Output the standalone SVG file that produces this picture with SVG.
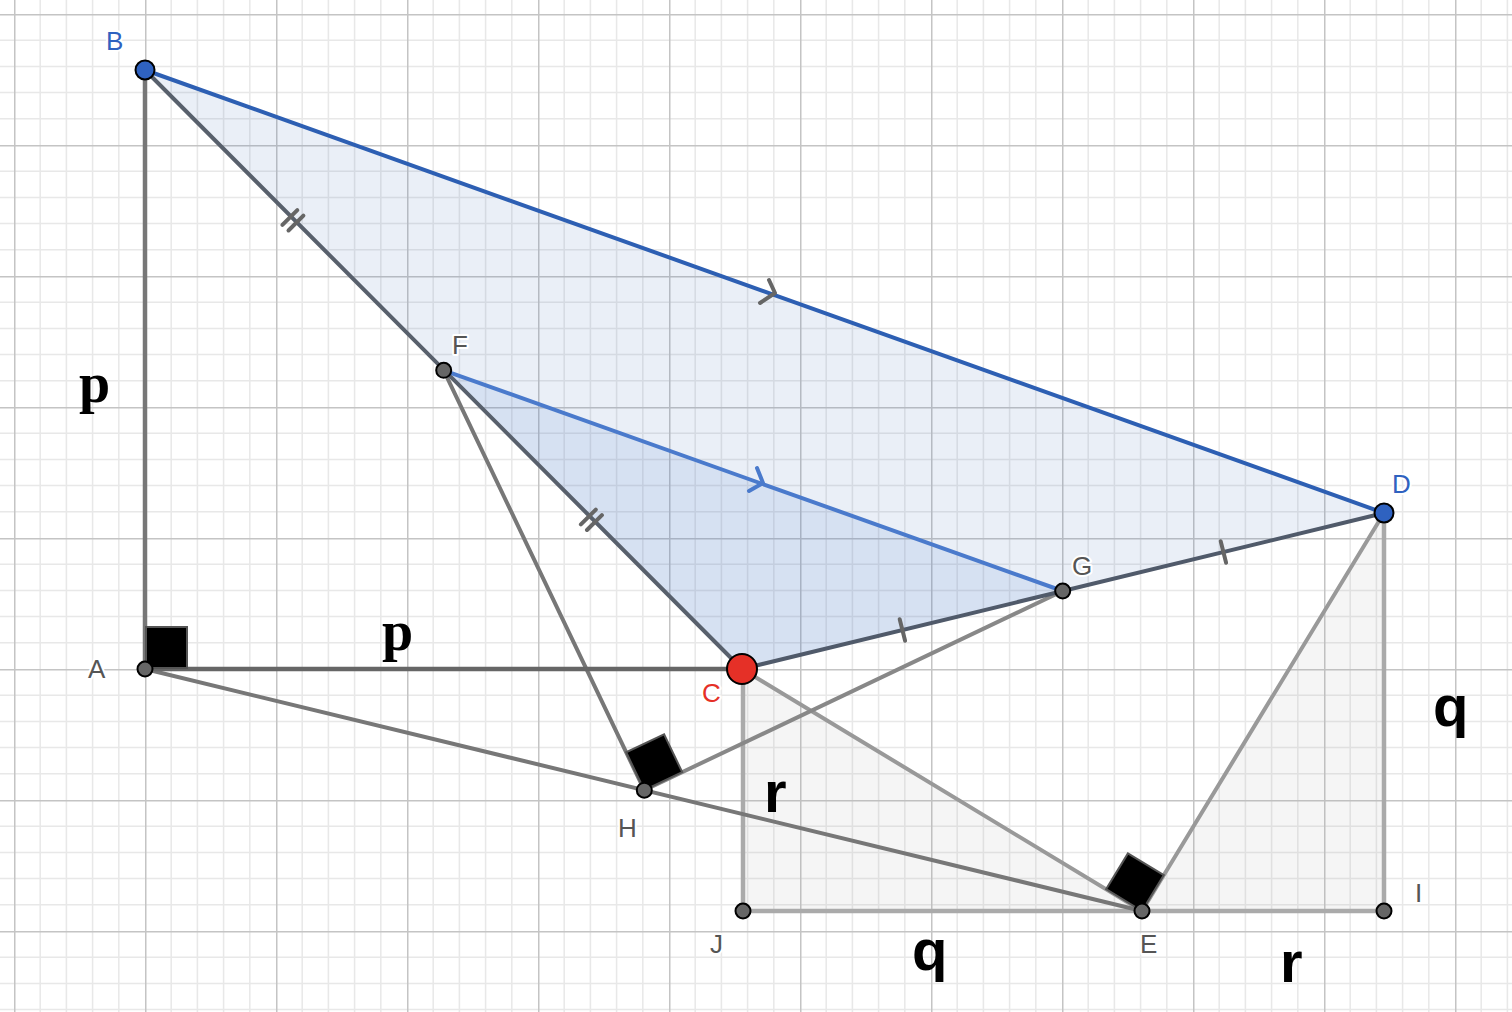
<svg xmlns="http://www.w3.org/2000/svg" width="1512" height="1012" viewBox="0 0 1512 1012">
<style>
.lbl{font-family:"Liberation Sans",Arial,sans-serif;font-size:26px;stroke:#fff;stroke-width:4px;paint-order:stroke;stroke-linejoin:round}
.gl{fill:#555}
.bl{fill:#2f62c0}
.rd{fill:#e53027}
.big{font-family:"Liberation Sans",Arial,sans-serif;font-weight:bold;font-size:58px;fill:#000}
.bigs{font-family:"Liberation Serif","Times New Roman",serif;font-weight:bold;font-size:56px;fill:#000}
.ln{fill:none;stroke-linecap:round}
.pt{stroke:#000;stroke-width:2}
.ra{fill:#000;stroke:#555;stroke-width:2}
.tick{stroke:#666;stroke-width:4;stroke-linecap:round;fill:none}
</style>
<defs>
<pattern id="grid" patternUnits="userSpaceOnUse" x="14" y="14" width="131" height="131">
<rect width="131" height="131" fill="#fff"/>
<path d="M26.2 0V131M52.4 0V131M78.6 0V131M104.8 0V131M0 26.2H131M0 52.4H131M0 78.6H131M0 104.8H131" stroke="#e8e8e8" stroke-width="1.5"/>
<path d="M0.5 0V131M0 0.5H131" stroke="#c4c4c4" stroke-width="2"/>
</pattern>
</defs>
<rect width="1512" height="1012" fill="url(#grid)"/>
<g id="fills">
<polygon points="145,70 1384,513 742,669" fill="#2e5eb0" fill-opacity="0.1"/>
<polygon points="443.7,370.3 1062.7,591 742,669" fill="#4a7acc" fill-opacity="0.12"/>
<polygon points="742,669 743,911 1142,911" fill="#999" fill-opacity="0.1"/>
<polygon points="1142,911 1384,911 1384,513" fill="#999" fill-opacity="0.1"/>
</g>
<g id="connectors">
<line class="ln" x1="743" y1="669" x2="743" y2="911" stroke="#aaa" stroke-width="4.5"/>
<line class="ln" x1="743" y1="911" x2="1384" y2="911" stroke="#aaa" stroke-width="4.5"/>
<line class="ln" x1="1384" y1="513" x2="1384" y2="911" stroke="#aaa" stroke-width="4.5"/>
<line class="ln" x1="742" y1="669" x2="1142" y2="911" stroke="#999" stroke-width="4"/>
<line class="ln" x1="1142" y1="911" x2="1384" y2="513" stroke="#999" stroke-width="4"/>
<line class="ln" x1="145" y1="669" x2="1142" y2="911" stroke="#777" stroke-width="4"/>
<line class="ln" x1="644.3" y1="790.2" x2="1062.7" y2="591" stroke="#888" stroke-width="4"/>
<line class="ln" x1="443.7" y1="370.3" x2="644.3" y2="790.2" stroke="#777" stroke-width="4"/>
<line class="ln" x1="145" y1="70" x2="145" y2="669" stroke="#777" stroke-width="4.5"/>
<line class="ln" x1="145" y1="669" x2="742" y2="669" stroke="#666" stroke-width="4.5"/>
<line class="ln" x1="145" y1="70" x2="742" y2="669" stroke="#58606c" stroke-width="4"/>
<line class="ln" x1="742" y1="669" x2="1384" y2="513" stroke="#505a6a" stroke-width="4"/>
<line class="ln" x1="145" y1="70" x2="1384" y2="513" stroke="#2d5fb3" stroke-width="4"/>
<line class="ln" x1="443.7" y1="370.3" x2="1062.7" y2="591" stroke="#4a7acc" stroke-width="4"/>
</g>
<g id="ticks">
<path class="tick" d="M282.4 224.9L297.3 210.1M288.5 230.5L303.4 215.7"/>
<path class="tick" d="M580.9 524.4L595.8 509.6M587 530L601.9 515.2"/>
<path class="tick" d="M899.7 619.3L905.1 640.7"/>
<path class="tick" d="M1220.7 541.3L1226.1 562.7"/>
<path d="M769 280L775 293L760 303" stroke="#666" stroke-width="4" fill="none" stroke-linecap="round" stroke-linejoin="round"/>
<path d="M757 468L763 483L749 491" stroke="#4a7acc" stroke-width="4" fill="none" stroke-linecap="round" stroke-linejoin="round"/>
</g>
<g id="right-angles">
<rect class="ra" x="146" y="627" width="41" height="41"/>
<polygon class="ra" points="644.3,790.2 626.2,752.3 664.1,734.3 682.2,772.1"/>
<polygon class="ra" points="1142,911 1106.1,889.2 1127.9,853.4 1163.8,875.1"/>
</g>
<g id="node-A"><circle class="pt" cx="145" cy="669" r="7.5" fill="#666"/><text class="lbl gl" x="88" y="678">A</text></g>
<g id="node-B"><circle class="pt" cx="145" cy="70" r="9.5" fill="#2f62c0"/><text class="lbl bl" x="106" y="50">B</text></g>
<g id="node-C"><circle class="pt" cx="742" cy="669" r="15" fill="#e53027"/><text class="lbl rd" x="702" y="702">C</text></g>
<g id="node-D"><circle class="pt" cx="1384" cy="513" r="9.5" fill="#2f62c0"/><text class="lbl bl" x="1392" y="493">D</text></g>
<g id="node-E"><circle class="pt" cx="1142" cy="911" r="7.5" fill="#666"/><text class="lbl gl" x="1140" y="953">E</text></g>
<g id="node-F"><circle class="pt" cx="443.7" cy="370.3" r="7.5" fill="#666"/><text class="lbl gl" x="452" y="354">F</text></g>
<g id="node-G"><circle class="pt" cx="1062.7" cy="591" r="7.5" fill="#666"/><text class="lbl gl" x="1072" y="575">G</text></g>
<g id="node-H"><circle class="pt" cx="644.3" cy="790.2" r="7.5" fill="#666"/><text class="lbl gl" x="618" y="837">H</text></g>
<g id="node-I"><circle class="pt" cx="1384" cy="911" r="7.5" fill="#666"/><text class="lbl gl" x="1415" y="902">I</text></g>
<g id="node-J"><circle class="pt" cx="743" cy="911" r="7.5" fill="#666"/><text class="lbl gl" x="710" y="953">J</text></g>
<g id="lengths">
<text class="bigs" x="79" y="402">p</text>
<text class="bigs" x="382" y="650">p</text>
<text class="big" x="1433" y="726">q</text>
<text class="big" x="912" y="970">q</text>
<text class="big" x="764" y="812">r</text>
<text class="big" x="1280" y="982">r</text>
</g>
</svg>
